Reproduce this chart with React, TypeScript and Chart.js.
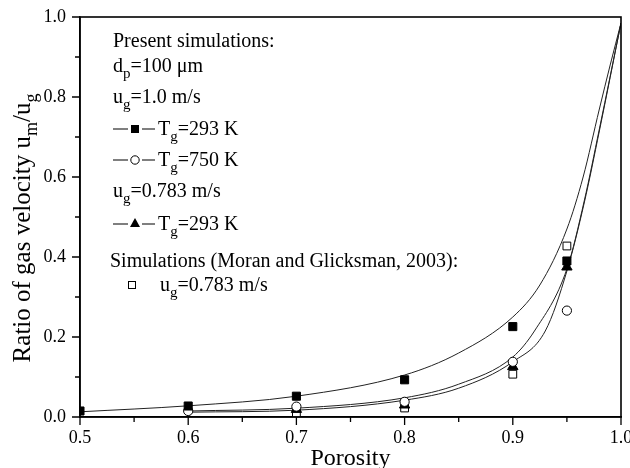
import React, { useEffect, useRef } from "react";
import { Chart, registerables } from "chart.js";

Chart.register(...registerables);

const FONT = "'Liberation Serif', 'Times New Roman', serif";

// Simulated points
const xT293u10 = [0.5, 0.6, 0.7, 0.8, 0.9, 0.95];
const yT293u10 = [0.015, 0.0275, 0.052, 0.093, 0.226, 0.39];
const xT750u10 = [0.6, 0.7, 0.8, 0.9, 0.95];
const yT750u10 = [0.015, 0.026, 0.038, 0.138, 0.266];
const xT293u0783 = [0.7, 0.8, 0.9, 0.95];
const yT293u0783 = [0.019, 0.03, 0.126, 0.375];
const xMoran = [0.7, 0.8, 0.9, 0.95];
const yMoran = [0.01, 0.0225, 0.107, 0.4275];

// Fitted curves
const fitAX = [0.5, 0.6, 0.7, 0.8, 0.85, 0.9, 0.925, 0.95, 0.965, 0.98, 0.99, 1.0];
const fitAY = [0.013, 0.028, 0.052, 0.105, 0.16, 0.25, 0.33, 0.47, 0.6, 0.77, 0.88, 0.985];
const fitBX = [0.6, 0.7, 0.8, 0.85, 0.9, 0.92, 0.95, 0.966, 0.98, 1.0];
const fitBY = [0.015, 0.022, 0.048, 0.082, 0.15, 0.215, 0.37, 0.54, 0.72, 0.985];
const fitCX = [0.6, 0.7, 0.8, 0.85, 0.9, 0.93, 0.95, 0.966, 0.98, 1.0];
const fitCY = [0.012, 0.017, 0.042, 0.072, 0.138, 0.215, 0.365, 0.535, 0.715, 0.985];

const X_MIN = 0.5;
const X_MAX = 1.0;
const X_STEP = 0.05;
const Y_MIN = 0;
const Y_MAX = 1.0;
const Y_STEP = 0.1;

const X_TITLE = "Porosity";

const pts = (xs: number[], ys: number[]) => xs.map((x, i) => ({ x, y: ys[i] }));

type Part = { t: string; sub?: boolean };

function drawRich(
  ctx: CanvasRenderingContext2D,
  x: number,
  y: number,
  parts: Part[],
  size: number,
  subSize: number,
  subDrop: number
) {
  let cx = x;
  for (const p of parts) {
    ctx.font = `${p.sub ? subSize : size}px ${FONT}`;
    ctx.fillText(p.t, cx, y + (p.sub ? subDrop : 0));
    cx += ctx.measureText(p.t).width;
  }
  return cx;
}

function richWidth(ctx: CanvasRenderingContext2D, parts: Part[], size: number, subSize: number) {
  let w = 0;
  for (const p of parts) {
    ctx.font = `${p.sub ? subSize : size}px ${FONT}`;
    w += ctx.measureText(p.t).width;
  }
  return w;
}

const decorPlugin = {
  id: "decor",
  afterDraw(chart: any) {
    const ctx: CanvasRenderingContext2D = chart.ctx;
    const area = chart.chartArea;
    const xs = chart.scales.x;
    const ys = chart.scales.y;
    ctx.save();
    ctx.strokeStyle = "#000";
    ctx.fillStyle = "#000";

    // frame
    ctx.lineWidth = 1.6;
    ctx.strokeRect(area.left, area.top, area.right - area.left, area.bottom - area.top);

    // ticks
    ctx.lineWidth = 1.3;
    ctx.beginPath();
    xs.ticks.forEach((t: any) => {
      const px = xs.getPixelForValue(t.value);
      const major = Math.round(t.value * 100) % 10 === 0;
      const len = major ? 8 : 5;
      ctx.moveTo(px, area.bottom);
      ctx.lineTo(px, area.bottom + len);
    });
    ys.ticks.forEach((t: any) => {
      const py = ys.getPixelForValue(t.value);
      const major = Math.round(t.value * 10) % 2 === 0;
      const len = major ? 8 : 5;
      ctx.moveTo(area.left, py);
      ctx.lineTo(area.left - len, py);
    });
    ctx.stroke();

    // x axis title
    ctx.textBaseline = "alphabetic";
    ctx.textAlign = "center";
    ctx.font = `24px ${FONT}`;
    ctx.fillText(X_TITLE, (area.left + area.right) / 2, 465);
    ctx.textAlign = "left";

    // y axis title
    ctx.save();
    ctx.translate(30, 228);
    ctx.rotate(-Math.PI / 2);
    const yTitle: Part[] = [
      { t: "Ratio of gas velocity u" },
      { t: "m", sub: true },
      { t: "/u" },
      { t: "g", sub: true },
    ];
    const w = richWidth(ctx, yTitle, 25, 18);
    drawRich(ctx, -w / 2, 0, yTitle, 25, 18, 7);
    ctx.restore();

    // legend block
    const S = 20;
    const SS = 15;
    const D = 6;
    drawRich(ctx, 113, 47, [{ t: "Present simulations:" }], S, SS, D);
    drawRich(ctx, 113, 72, [{ t: "d" }, { t: "p", sub: true }, { t: "=100 \u03bcm" }], S, SS, D);
    drawRich(ctx, 113, 103, [{ t: "u" }, { t: "g", sub: true }, { t: "=1.0 m/s" }], S, SS, D);

    const dashRow = (yc: number) => {
      ctx.lineWidth = 1.2;
      ctx.beginPath();
      ctx.moveTo(113, yc);
      ctx.lineTo(128, yc);
      ctx.moveTo(142, yc);
      ctx.lineTo(155, yc);
      ctx.stroke();
    };
    // row: filled square
    dashRow(129);
    ctx.fillRect(131, 125, 8, 8);
    drawRich(ctx, 158, 135, [{ t: "T" }, { t: "g", sub: true }, { t: "=293 K" }], S, SS, D);
    // row: open circle
    dashRow(160);
    ctx.beginPath();
    ctx.arc(135, 160, 4.2, 0, Math.PI * 2);
    ctx.fillStyle = "#fff";
    ctx.fill();
    ctx.lineWidth = 1;
    ctx.stroke();
    ctx.fillStyle = "#000";
    drawRich(ctx, 158, 166, [{ t: "T" }, { t: "g", sub: true }, { t: "=750 K" }], S, SS, D);
    drawRich(ctx, 113, 197, [{ t: "u" }, { t: "g", sub: true }, { t: "=0.783 m/s" }], S, SS, D);
    // row: filled triangle
    dashRow(224);
    ctx.beginPath();
    ctx.moveTo(135, 218);
    ctx.lineTo(140, 227);
    ctx.lineTo(130, 227);
    ctx.closePath();
    ctx.fill();
    drawRich(ctx, 158, 230, [{ t: "T" }, { t: "g", sub: true }, { t: "=293 K" }], S, SS, D);
    drawRich(ctx, 110, 267, [{ t: "Simulations (Moran and Glicksman, 2003):" }], S, SS, D);
    // row: open square
    ctx.lineWidth = 1;
    ctx.strokeRect(128.5, 281.5, 7, 7);
    drawRich(ctx, 160, 291, [{ t: "u" }, { t: "g", sub: true }, { t: "=0.783 m/s" }], S, SS, D);

    ctx.restore();
  },
};

export default function App() {
  const ref = useRef<HTMLCanvasElement>(null);

  useEffect(() => {
    if (!ref.current) return;
    const curve = (xs: number[], ys: number[]) => ({
      data: pts(xs, ys),
      showLine: true,
      borderColor: "#222",
      borderWidth: 1,
      pointRadius: 0,
      fill: false,
      cubicInterpolationMode: "monotone" as const,
    });
    const chart = new Chart(ref.current, {
      type: "scatter",
      data: {
        datasets: [
          {
            data: pts(xT293u10, yT293u10),
            pointStyle: "rect",
            pointRadius: 5.7,
            backgroundColor: "#000",
            borderColor: "#000",
            borderWidth: 1,
          },
          {
            data: pts(xT750u10, yT750u10),
            pointStyle: "circle",
            pointRadius: 4.6,
            backgroundColor: "#fff",
            borderColor: "#000",
            borderWidth: 1,
          },
          {
            data: pts(xT293u0783, yT293u0783),
            pointStyle: "triangle",
            pointRadius: 6,
            backgroundColor: "#000",
            borderColor: "#000",
            borderWidth: 1,
          },
          {
            data: pts(xMoran, yMoran),
            pointStyle: "rect",
            pointRadius: 5.5,
            backgroundColor: "#fff",
            borderColor: "#000",
            borderWidth: 1,
          },
          curve(fitAX, fitAY),
          curve(fitBX, fitBY),
          curve(fitCX, fitCY),
        ] as any,
      },
      options: {
        responsive: false,
        animation: false,
        devicePixelRatio: 1,
        layout: { padding: { top: 17, right: 9, left: 0, bottom: 0 } },
        plugins: {
          legend: { display: false },
          tooltip: { enabled: false },
        },
        scales: {
          x: {
            type: "linear",
            min: X_MIN,
            max: X_MAX,
            ticks: {
              stepSize: X_STEP,
              autoSkip: false,
              maxRotation: 0,
              padding: 2,
              color: "#000",
              font: { family: FONT, size: 18 },
              callback: (v: any) => (Math.round(Number(v) * 100) % 10 === 0 ? Number(v).toFixed(1) : ""),
            },
            grid: { drawOnChartArea: false, tickLength: 8, tickColor: "rgba(0,0,0,0)" },
            border: { color: "#000", width: 1.5 },
            title: { display: false },
            afterFit: (s: any) => {
              s.height = 51;
              s.paddingLeft = 0;
              s.paddingRight = 0;
            },
          },
          y: {
            type: "linear",
            min: Y_MIN,
            max: Y_MAX,
            ticks: {
              stepSize: Y_STEP,
              autoSkip: false,
              padding: 6,
              color: "#000",
              font: { family: FONT, size: 18 },
              callback: (v: any) => (Math.round(Number(v) * 10) % 2 === 0 ? Number(v).toFixed(1) : ""),
            },
            grid: { drawOnChartArea: false, tickLength: 8, tickColor: "rgba(0,0,0,0)" },
            border: { color: "#000", width: 1.5 },
            afterFit: (s: any) => {
              s.width = 80;
              s.paddingTop = 0;
              s.paddingBottom = 0;
            },
          },
        },
      } as any,
      plugins: [decorPlugin],
    });
    return () => chart.destroy();
  }, []);

  return (
    <div style={{ position: "absolute", left: 0, top: 0, width: 630, height: 468, background: "#fff" }}>
      <canvas ref={ref} width={630} height={468} style={{ display: "block" }} />
    </div>
  );
}
